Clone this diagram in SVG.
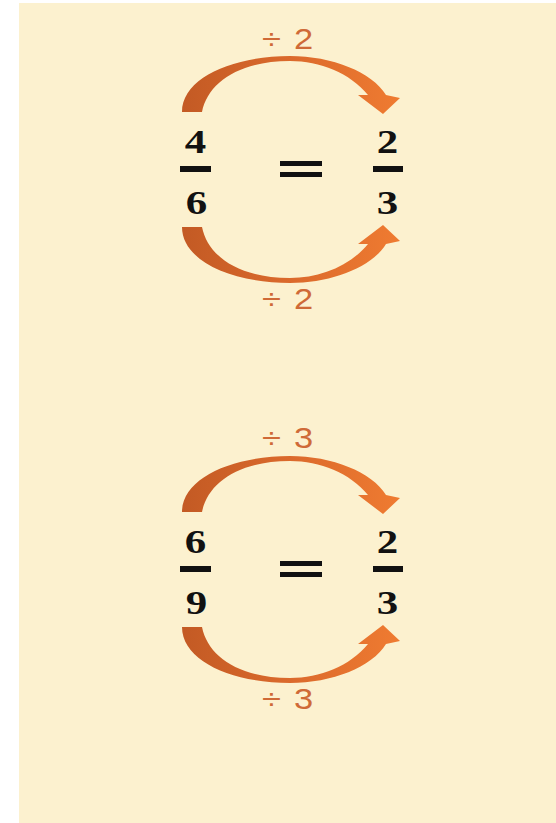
<svg xmlns="http://www.w3.org/2000/svg" xmlns:xlink="http://www.w3.org/1999/xlink" width="556" height="823" viewBox="0 0 556 823">
<style>
.num{font-family:"Liberation Serif","DejaVu Serif",serif;font-weight:bold;font-size:33px;fill:#111;text-anchor:middle}
.lbl{font-family:"Liberation Sans",Arial,sans-serif;font-size:30px;fill:#CF6A37}
.bar{fill:#111}
</style>
<defs>
<linearGradient id="ag" x1="0" y1="0" x2="1" y2="0">
<stop offset="0" stop-color="#C35A24"/>
<stop offset="0.5" stop-color="#DB6A2C"/>
<stop offset="1" stop-color="#EF7B31"/>
</linearGradient>
<path id="arc" fill="url(#ag)" d="M182 112 C182 78 232 56 290 56 C332 56 372 72 386 95 L400 98 L383 114 L358 95 L368 95 C350 73 320 61 290 61 C240 61 208 82 202 112 Z"/>
</defs>
<rect width="556" height="823" fill="#fff"/>
<rect x="19" y="3" width="537" height="820" fill="#FCF1CF"/>

<g id="set1">
<g id="frac-4-6">
<text class="num" transform="translate(195.5,153) scale(1.3,1)">4</text>
<rect class="bar" x="180" y="166" width="31" height="6"/>
<text class="num" transform="translate(196.5,214) scale(1.3,1)">6</text>
</g>
<g id="equals-1">
<rect class="bar" x="280" y="161" width="42" height="5"/>
<rect class="bar" x="280" y="172" width="42" height="5"/>
</g>
<g id="frac-2-3-a">
<text class="num" transform="translate(387.5,153) scale(1.3,1)">2</text>
<rect class="bar" x="373" y="166" width="30" height="6"/>
<text class="num" transform="translate(387.5,214) scale(1.3,1)">3</text>
</g>
</g>

<g id="set2">
<g id="frac-6-9">
<text class="num" transform="translate(195.5,553) scale(1.3,1)">6</text>
<rect class="bar" x="180" y="566" width="31" height="6"/>
<text class="num" transform="translate(196.5,614) scale(1.3,1)">9</text>
</g>
<g id="equals-2">
<rect class="bar" x="280" y="561" width="42" height="5"/>
<rect class="bar" x="280" y="572" width="42" height="5"/>
</g>
<g id="frac-2-3-b">
<text class="num" transform="translate(387.5,553) scale(1.3,1)">2</text>
<rect class="bar" x="373" y="566" width="30" height="6"/>
<text class="num" transform="translate(387.5,614) scale(1.3,1)">3</text>
</g>
</g>

<g id="connectors">
<use xlink:href="#arc" href="#arc"/>
<use xlink:href="#arc" href="#arc" transform="matrix(1 0 0 -1 0 339)"/>
<use xlink:href="#arc" href="#arc" transform="translate(0 400)"/>
<use xlink:href="#arc" href="#arc" transform="matrix(1 0 0 -1 0 739)"/>
<text class="lbl" transform="translate(262,49) scale(1.15,1)">÷<tspan dx="3"> 2</tspan></text>
<text class="lbl" transform="translate(262,309) scale(1.15,1)">÷<tspan dx="3"> 2</tspan></text>
<text class="lbl" transform="translate(262,448) scale(1.15,1)">÷<tspan dx="3"> 3</tspan></text>
<text class="lbl" transform="translate(262,709) scale(1.15,1)">÷<tspan dx="3"> 3</tspan></text>
</g>
</svg>
